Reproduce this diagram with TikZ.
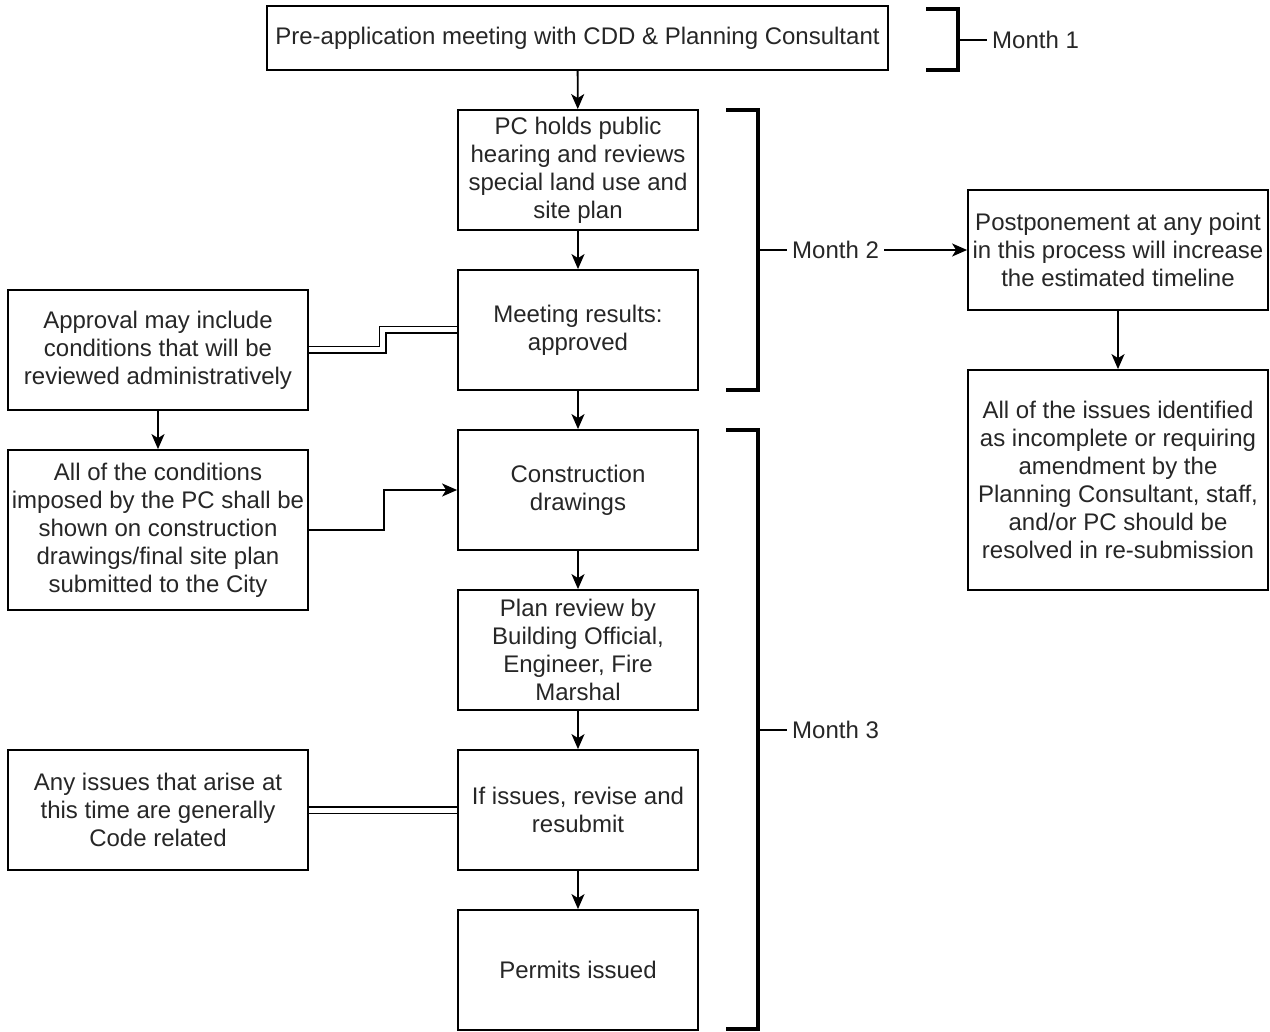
\documentclass[tikz,border=0pt]{standalone}
\usepackage{fontspec}
\setmainfont{Liberation Sans}
\usetikzlibrary{arrows.meta}
\begin{document}
\begin{tikzpicture}[x=1pt,y=-1pt,
  box/.style={draw, line width=1.8pt, align=center, inner sep=0pt,
    font=\fontsize{24}{28}\selectfont, text=black!85},
  mainbox/.style={box, minimum width=240pt, minimum height=120pt},
  sidebox/.style={box, minimum width=300pt, minimum height=120pt},
  arrow/.style={line width=1.8pt, -{Stealth[length=15pt,width=13pt,inset=4pt]}},
  dbl/.style={line width=1.8pt, double, double distance=5pt},
  brk/.style={line width=3.2pt, line cap=rect},
  tick/.style={line width=2.8pt},
  lab/.style={anchor=west, inner sep=5pt, font=\fontsize{24}{28}\selectfont, text=black!85}
]
\useasboundingbox (0,0) rectangle (1270,1032);

% main column
\node[box, minimum width=621pt, minimum height=64pt] (pre) at (577.5,38)
  {Pre-application meeting with CDD \& Planning Consultant};
\node[mainbox] (pc) at (578,170)
  {PC holds public\\hearing and reviews\\special land use and\\site plan};
\node[mainbox] (meet) at (578,330) {Meeting results:\\approved};
\node[mainbox] (cons) at (578,490) {Construction\\drawings};
\node[mainbox] (plan) at (578,650)
  {Plan review by\\Building Official,\\Engineer, Fire\\Marshal};
\node[mainbox] (rev) at (578,810) {If issues, revise and\\resubmit};
\node[mainbox] (perm) at (578,970) {Permits issued};

% left column
\node[sidebox] (appr) at (158,350)
  {Approval may include\\conditions that will be\\reviewed administratively};
\node[sidebox, minimum height=160pt] (cond) at (158,530)
  {All of the conditions\\imposed by the PC shall be\\shown on construction\\drawings/final site plan\\submitted to the City};
\node[sidebox] (code) at (158,810)
  {Any issues that arise at\\this time are generally\\Code related};

% right column
\node[sidebox] (post) at (1118,250)
  {Postponement at any point\\in this process will increase\\the estimated timeline};
\node[sidebox, minimum height=220pt] (res) at (1118,480)
  {All of the issues identified\\as incomplete or requiring\\amendment by the\\Planning Consultant, staff,\\and/or PC should be\\resolved in re-submission};

% flow arrows
\draw[arrow] (pre) -- (pc);
\draw[arrow] (pc) -- (meet);
\draw[arrow] (meet) -- (cons);
\draw[arrow] (cons) -- (plan);
\draw[arrow] (plan) -- (rev);
\draw[arrow] (rev) -- (perm);
\draw[arrow] (appr) -- (cond);
\draw[arrow] (post) -- (res);
\draw[arrow] (cond.east) -- ++(75,0) |- (cons.west);

% double links
\draw[dbl] (appr.east) -- ++(74,0) |- (meet.west);
\draw[dbl] (code.east) -- (rev.west);

% month brackets
\coordinate (b1) at (958,40);
\draw[brk] (928,9) -- (958,9) -- (958,70) -- (928,70);
\node[lab] (m1) at (987,40) {Month 1};
\draw[tick] (b1) -- (m1.west);

\coordinate (b2) at (758,250);
\draw[brk] (728,110) -- (758,110) -- (758,390) -- (728,390);
\node[lab] (m2) at (787,250) {Month 2};
\draw[tick] (b2) -- (m2.west);
\draw[arrow] (m2.east) -- (post.west);

\coordinate (b3) at (758,730);
\draw[brk] (728,430) -- (758,430) -- (758,1029) -- (728,1029);
\node[lab] (m3) at (787,730) {Month 3};
\draw[tick] (b3) -- (m3.west);
\end{tikzpicture}
\end{document}
